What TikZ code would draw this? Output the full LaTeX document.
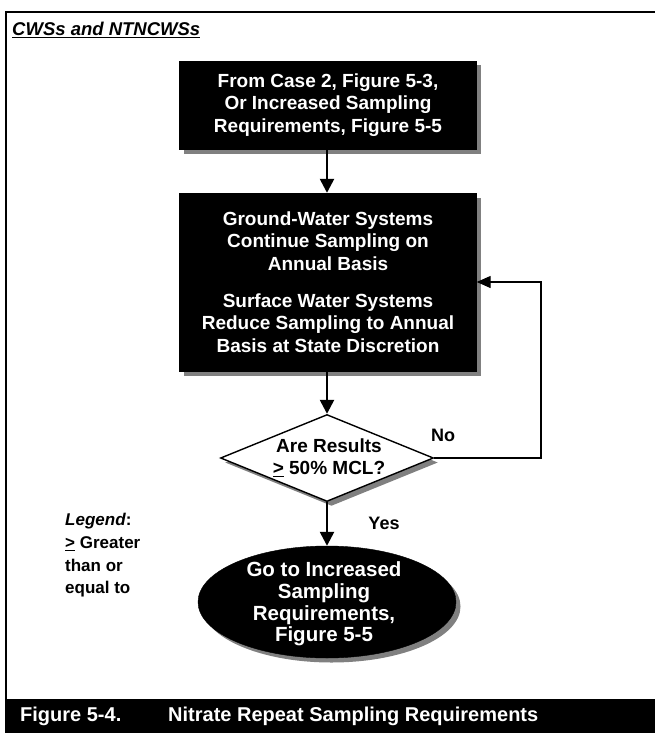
\documentclass[tikz,border=0pt]{standalone}
\usepackage{fontspec}
\setmainfont{Liberation Sans}
\usetikzlibrary{shapes.geometric,arrows.meta,shadows}
\begin{document}
\begin{tikzpicture}[x=1pt,y=-1pt,
  txt/.style={font=\fontsize{19}{22.7}\selectfont\bfseries, align=center, inner sep=0pt},
  shade4/.style={drop shadow={shadow xshift=4.5pt, shadow yshift=-4.5pt, fill=black!50, opacity=1}},
  darkbox/.style={rectangle, fill=black, draw=black, shade4, minimum width=297pt, inner sep=0pt},
  flow/.style={line width=2.5pt, -{Triangle[length=14pt, width=14pt]}},
  loop/.style={line width=1.3pt, -{Triangle[length=14pt, width=12pt]}},
  lbl/.style={font=\fontsize{18}{20}\selectfont\bfseries, inner sep=0pt}
]
\useasboundingbox (0,0) rectangle (655,733);

% frame and caption bar
\draw[line width=2pt] (6,733) -- (6,12) -- (655,12);
\fill[black] (5,699) rectangle (655,733);
\node[lbl, text=white, anchor=west, font=\fontsize{20}{22}\selectfont\bfseries] (fignum) at (20,716) {Figure 5-4.};
\node[lbl, text=white, anchor=west, font=\fontsize{20}{22}\selectfont\bfseries] (figtitle) at (168,716) {Nitrate Repeat Sampling Requirements};

% heading
\node[lbl, anchor=west, font=\fontsize{18.5}{20}\selectfont\bfseries\itshape] (heading) at (12,30) {\underline{CWSs and NTNCWSs}};

% process boxes
\node[darkbox, minimum height=88pt] (start) at (328,105) {};
\node[txt, text=white] (starttxt) at (start) {From Case 2, Figure 5-3,\\ Or Increased Sampling\\ Requirements, Figure 5-5};

\node[darkbox, minimum height=178pt] (annual) at (328,282) {};
\node[txt, text=white] (annualtxt) at (annual) {Ground-Water Systems\\ Continue Sampling on\\ Annual Basis\\[14pt] Surface Water Systems\\ Reduce Sampling to Annual\\ Basis at State Discretion};

% decision
\node[diamond, draw=black, line width=1.4pt, fill=white, shade4, minimum width=213pt, minimum height=87pt, inner sep=0pt] (check) at (327,458) {};
\node[txt, font=\fontsize{19}{22}\selectfont\bfseries] (checktxt) at (329,458) {Are Results\\ \underline{>} 50\% MCL?};

% outcome
\node[ellipse, fill=black, draw=black, shade4, minimum width=258pt, minimum height=112pt, inner sep=0pt] (goto) at (327,602) {};
\node[txt, text=white, font=\fontsize{20.5}{21.7}\selectfont\bfseries] (gototxt) at (324,604) {Go to Increased\\ Sampling\\ Requirements,\\ Figure 5-5};

% legend
\node[lbl, anchor=north west, align=left, font=\fontsize{17}{22.8}\selectfont\bfseries] (legend) at (65,513) {\textit{Legend}:\\ \underline{>} Greater\\ than or\\ equal to};

% connectors
\draw[flow] (start.south -| check.north) -- (annual.north -| check.north);
\draw[flow] (annual.south -| check.north) -- (check.north);
\draw[flow] (check.south) -- (goto.north);
\coordinate (loopcorner) at (541,282);
\draw[loop] (check.east) -| (loopcorner) -- (annual.east);

\node[lbl] (no) at (443,435) {No};
\node[lbl] (yes) at (384,523) {Yes};
\end{tikzpicture}
\end{document}
